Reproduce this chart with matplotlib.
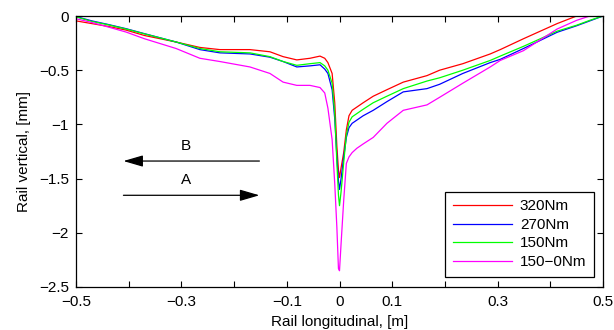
import numpy as np
import matplotlib
matplotlib.use('Agg')
import matplotlib.pyplot as plt

plt.rcParams['font.family'] = ['Liberation Sans', 'DejaVu Sans']
plt.rcParams['axes.unicode_minus'] = True

# longitudinal positions [m]
x = [-0.5, -0.47, -0.44, -0.405, -0.37, -0.31, -0.265, -0.227, -0.17, -0.132,
     -0.107, -0.081, -0.056, -0.037, -0.028, -0.022, -0.014, -0.009, -0.005, -0.002,
     0.0, 0.003, 0.008, 0.013, 0.018, 0.024, 0.033, 0.045, 0.064, 0.09,
     0.121, 0.166, 0.19, 0.234, 0.286, 0.305, 0.349, 0.413, 0.45, 0.475, 0.5]

# rail vertical displacement [mm]
y_320 = [-0.045, -0.07, -0.095, -0.13, -0.18, -0.24, -0.29, -0.31, -0.31, -0.33,
         -0.375, -0.405, -0.39, -0.37, -0.39, -0.43, -0.53, -0.80, -1.20, -1.42,
         -1.49, -1.40, -1.26, -1.05, -0.92, -0.87, -0.84, -0.80, -0.74, -0.68,
         -0.61, -0.55, -0.50, -0.44, -0.35, -0.31, -0.21, -0.07, 0.0, 0.03, 0.06]
y_270 = [-0.005, -0.045, -0.077, -0.117, -0.163, -0.24, -0.31, -0.34, -0.35, -0.38,
         -0.42, -0.47, -0.46, -0.45, -0.49, -0.53, -0.68, -0.95, -1.30, -1.52,
         -1.60, -1.50, -1.30, -1.12, -1.03, -0.99, -0.96, -0.92, -0.87, -0.79,
         -0.70, -0.67, -0.63, -0.53, -0.43, -0.40, -0.30, -0.15, -0.09, -0.045, 0.0]
y_150 = [-0.008, -0.05, -0.08, -0.12, -0.165, -0.24, -0.30, -0.33, -0.34, -0.375,
         -0.42, -0.455, -0.44, -0.43, -0.46, -0.50, -0.62, -0.90, -1.35, -1.65,
         -1.75, -1.62, -1.35, -1.10, -0.98, -0.93, -0.90, -0.86, -0.80, -0.74,
         -0.67, -0.60, -0.57, -0.50, -0.41, -0.37, -0.28, -0.14, -0.085, -0.04, 0.0]
y_150_0 = [-0.025, -0.06, -0.10, -0.148, -0.21, -0.30, -0.39, -0.42, -0.47, -0.53,
           -0.61, -0.64, -0.64, -0.66, -0.71, -0.85, -1.14, -1.55, -1.95, -2.33,
           -2.35, -2.10, -1.70, -1.36, -1.30, -1.26, -1.22, -1.18, -1.12, -0.99,
           -0.87, -0.82, -0.75, -0.62, -0.47, -0.41, -0.32, -0.12, -0.04, 0.0, 0.03]

series = [('320Nm', y_320, 'red'), ('270Nm', y_270, 'blue'),
          ('150Nm', y_150, '#00ff00'), ('150\u22120Nm', y_150_0, 'magenta')]

xticks = np.round(np.arange(-0.5, 0.51, 0.1), 2)
xticklabels = ['\u22120.5', '', '\u22120.3', '', '\u22120.1', '0', '0.1', '', '0.3', '', '0.5']
yticks = [0, -0.5, -1, -1.5, -2, -2.5]
yticklabels = ['0', '\u22120.5', '\u22121', '\u22121.5', '\u22122', '\u22122.5']

fig = plt.figure(figsize=(6.14, 3.30), dpi=100)
ax = fig.add_axes([76/614, 43/330, 527/614, 271/330])

for name, yy, c in series:
    ax.plot(x, yy, color=c, lw=0.9, label=name)

ax.set_xlim(-0.5, 0.5)
ax.set_ylim(-2.5, 0)
ax.set_xticks(xticks)
ax.set_xticklabels(xticklabels)
ax.set_yticks(yticks)
ax.set_yticklabels(yticklabels)
ax.tick_params(direction='in', top=True, right=True, length=4, width=0.8,
               labelsize=11)
ax.tick_params(axis='x', pad=6)
ax.tick_params(axis='y', pad=5)
for sp in ax.spines.values():
    sp.set_linewidth(0.9)
ax.set_xlabel('Rail longitudinal, [m]', fontsize=11, labelpad=4)
ax.set_ylabel('Rail vertical, [mm]', fontsize=11, labelpad=6)

# direction arrows
ax.annotate('', xy=(-0.41, -1.338), xytext=(-0.152, -1.338),
            arrowprops=dict(arrowstyle='-|>,head_length=1.2,head_width=0.35',
                            color='black', lw=0.9, mutation_scale=10,
                            shrinkA=0, shrinkB=0))
ax.annotate('', xy=(-0.152, -1.654), xytext=(-0.41, -1.654),
            arrowprops=dict(arrowstyle='-|>,head_length=1.2,head_width=0.35',
                            color='black', lw=0.9, mutation_scale=10,
                            shrinkA=0, shrinkB=0))
ax.text(-0.291, -1.2, 'B', ha='center', va='center', fontsize=11)
ax.text(-0.291, -1.51, 'A', ha='center', va='center', fontsize=11)

leg = ax.legend(loc='lower right', bbox_to_anchor=(0.983, 0.038), borderaxespad=0,
                fontsize=11, handlelength=3.9, labelspacing=0.3, fancybox=False,
                framealpha=1, edgecolor='black', borderpad=0.5, handletextpad=0.5)
leg.get_frame().set_linewidth(0.9)

plt.savefig('out.png', dpi=100)
